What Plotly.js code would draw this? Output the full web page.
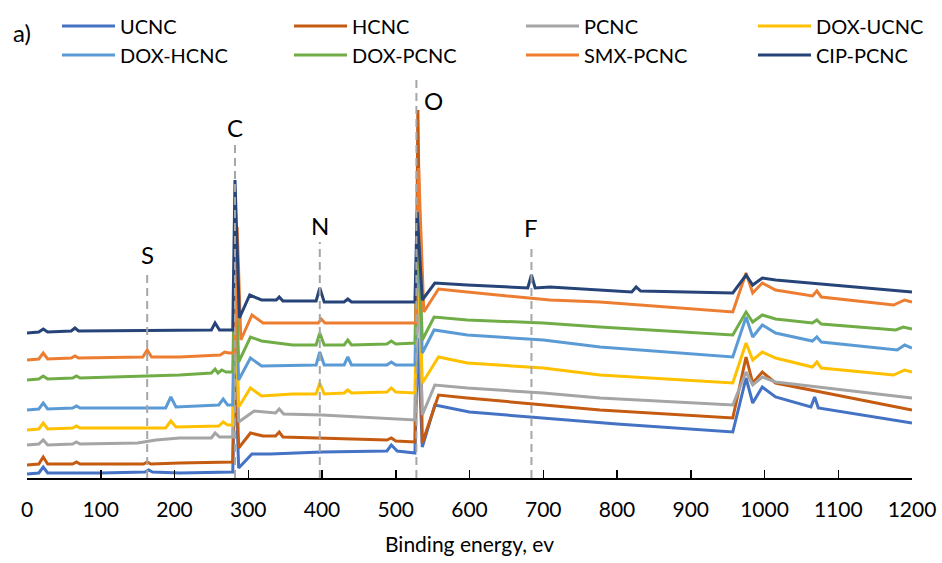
<!DOCTYPE html>
<html>
<head>
<meta charset="utf-8">
<script src="https://cdn.plot.ly/plotly-3.0.1.min.js"></script>
<style>html,body{margin:0;padding:0;background:#fff;}#chart{width:942px;height:563px;}</style>
</head>
<body>
<div id="chart"></div>
<script>
// ---- data (binding energy in eV, intensity in arbitrary offset units) ----
const seriesNames = ['UCNC','HCNC','PCNC','DOX-UCNC','DOX-HCNC','DOX-PCNC','SMX-PCNC','CIP-PCNC'];

const ucncE = [0,16,22,28,100,160,165,170,207,279,282,287,305,330,400,480,488,494,502,526,530,536,553,600,700,800,957,975,984,997,1015,1063,1068,1073,1200];
const ucncI = [4,5,11,5,5,6,8,6,5,6,120,10,24,24,26,27,27,33,27,25,140,31,73,66,60,54,46,100,75,91,81,71,81,70,55];

const hcncE = [0,16,22,28,62,67,72,158,163,168,207,279,282,287,303,320,337,342,347,400,488,494,500,526,530,536,558,597,700,777,957,975,984,997,1015,1200];
const hcncI = [13,14,21,14,14,16,14,14,16,14,15,16,150,30,45,42,42,46,41,40,38,40,37,36,368,35,83,80,73,68,60,121,95,106,95,68];

const pcncE = [0,16,22,28,62,67,72,150,175,207,250,255,261,279,282,287,308,330,337,342,348,400,526,530,536,553,597,700,777,957,975,984,997,1015,1200];
const pcncI = [33,34,38,33,34,36,34,35,38,40,40,45,41,41,190,56,67,65,65,69,64,63,58,210,63,93,90,85,80,73,106,93,101,96,80];

const doxUcncE = [0,16,22,28,62,67,72,188,195,202,260,266,272,279,282,287,303,318,360,392,397,403,430,435,440,488,494,500,526,530,536,558,597,700,777,957,975,984,997,1015,1065,1071,1077,1175,1190,1200];
const doxUcncI = [48,49,55,49,50,52,50,50,57,51,52,56,53,53,200,71,90,82,84,84,95,84,85,88,85,86,90,86,85,230,95,121,115,110,103,95,135,118,126,120,111,116,110,103,108,106];

const doxHcncE = [0,16,22,28,62,67,72,188,195,202,260,266,272,279,282,287,303,318,392,397,403,430,435,440,488,494,500,526,530,536,552,597,700,777,957,975,984,997,1015,1065,1071,1077,1180,1190,1200];
const doxHcncI = [68,69,75,69,70,72,70,70,81,71,73,79,73,73,215,98,120,112,113,126,113,113,121,113,113,116,113,113,245,125,148,143,138,131,121,161,141,153,145,137,141,136,128,133,130];

const doxPcncE = [0,16,22,28,62,67,72,207,250,255,259,264,270,279,282,287,303,318,360,392,397,403,430,435,440,488,494,500,526,530,536,552,597,700,777,957,975,984,997,1015,1065,1071,1077,1178,1188,1200];
const doxPcncI = [98,99,102,99,100,102,100,103,105,109,105,108,106,106,235,116,141,137,133,133,145,133,133,138,133,134,137,134,135,255,138,161,158,155,151,143,166,156,163,159,155,158,154,148,151,149];

const smxPcncE = [0,16,22,28,60,65,70,157,163,169,207,262,268,274,282,285,290,305,320,395,399,404,527,531,538,558,597,709,777,957,975,984,997,1015,1065,1071,1077,1175,1190,1200];
const smxPcncI = [118,119,125,119,120,122,120,121,128,121,121,123,126,125,125,251,138,163,155,155,159,155,155,310,166,189,186,178,176,166,205,185,195,188,182,187,181,173,178,176];

const cipPcncE = [0,16,22,28,60,65,70,207,250,255,261,279,282,288,302,318,338,342,347,392,397,403,430,435,440,526,529,536,553,597,679,684,689,709,777,820,826,832,957,975,984,997,1015,1200];
const cipPcncI = [145,146,149,146,147,150,147,148,148,155,148,148,298,160,183,178,178,181,177,177,190,176,176,179,176,176,266,178,195,193,190,203,190,191,188,186,191,187,185,203,193,200,198,186];

// element reference lines
const elementLabels = ['S','C','N','O','F'];
const elementEnergy = [163, 282, 397, 528, 684];

const xTickValues = [0,100,200,300,400,500,600,700,800,900,1000,1100,1200];

// ---- styling ----
const FONT = 'Lato, "Open Sans", sans-serif';
const colors = ['#4472C4','#C55A11','#A5A5A5','#FFC000','#5B9BD5','#70AD47','#ED7D31','#264478'];
const energies = [ucncE,hcncE,pcncE,doxUcncE,doxHcncE,doxPcncE,smxPcncE,cipPcncE];
const intens = [ucncI,hcncI,pcncI,doxUcncI,doxHcncI,doxPcncI,smxPcncI,cipPcncI];

// plot area geometry (px)
const W = 942, H = 563;
const M = {l: 27, r: 30, t: 70, b: 85, autoexpand: false};
const plotW = W - M.l - M.r, plotH = H - M.t - M.b;
const pxToPaperX = px => (px - M.l) / plotW;
const pxToPaperY = py => (H - M.b - py) / plotH;

// legend placement (line start px, row center px)
const legendCols = [57, 289, 521, 753];
const legendRows = [26, 55];

const traces = seriesNames.map((n, i) => ({
  type: 'scatter', mode: 'lines', name: n,
  x: energies[i], y: intens[i],
  line: {color: colors[i], width: 3},
  legend: i === 0 ? 'legend' : 'legend' + (i + 1),
  hoverinfo: 'x+y+name'
}));

const layout = {
  width: W, height: H,
  margin: M,
  paper_bgcolor: '#fff', plot_bgcolor: '#fff',
  font: {family: FONT, size: 20, color: '#000'},
  xaxis: {
    range: [0, 1200], tickvals: xTickValues, ticktext: xTickValues.map(String),
    ticks: 'inside', ticklen: 8, tickwidth: 1.5, tickcolor: '#000',
    showline: true, linecolor: '#000', linewidth: 1.5,
    showgrid: false, zeroline: false,
    tickfont: {family: FONT, size: 21, color: '#000'},
    ticklabelstandoff: 12,
    title: {text: 'Binding energy, ev', font: {family: FONT, size: 21, color: '#000'}, standoff: 17}
  },
  yaxis: {range: [0, 408], visible: false, showgrid: false, zeroline: false},
  showlegend: true,
  shapes: [],
  annotations: []
};

seriesNames.forEach((n, i) => {
  const key = i === 0 ? 'legend' : 'legend' + (i + 1);
  const col = i % 4, row = Math.floor(i / 4);
  layout[key] = {
    orientation: 'h', xanchor: 'left', yanchor: 'middle',
    x: pxToPaperX(legendCols[col]), y: pxToPaperY(legendRows[row]),
    font: {family: FONT, size: 20, color: '#000'},
    itemwidth: 53, bgcolor: 'rgba(0,0,0,0)', borderwidth: 0
  };
});

// element markers: dashed line tops and label centers (in y-axis units)
const lineTop = [206, 335, 236, 401, 233];
const labelY = [224, 351, 253, 378, 251];
const labelX = [163, 282, 397, 551, 684];
elementLabels.forEach((lab, i) => {
  layout.shapes.push({
    type: 'line', xref: 'x', yref: 'y', layer: 'above',
    x0: elementEnergy[i], x1: elementEnergy[i], y0: 0, y1: lineTop[i],
    line: {color: '#A6A6A6', width: 2, dash: '8px,5px'}
  });
  layout.annotations.push({
    xref: 'x', yref: 'y', x: labelX[i], y: labelY[i], text: lab, showarrow: false,
    xanchor: 'center', yanchor: 'middle',
    font: {family: FONT, size: 24, color: '#000'}
  });
});

layout.annotations.push({
  xref: 'paper', yref: 'paper', x: pxToPaperX(11), y: pxToPaperY(32),
  xanchor: 'left', yanchor: 'middle', text: 'a)', showarrow: false,
  font: {family: FONT, size: 24, color: '#000'}
});

Plotly.newPlot('chart', traces, layout, {displayModeBar: false, staticPlot: true});
</script>
</body>
</html>
